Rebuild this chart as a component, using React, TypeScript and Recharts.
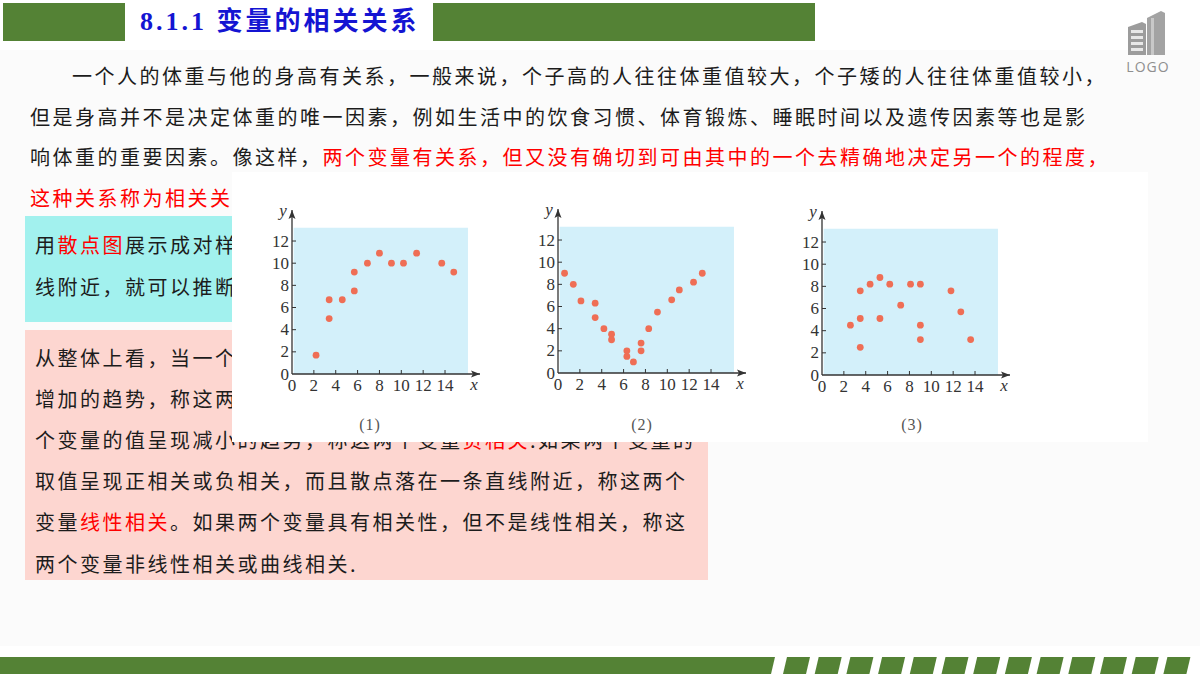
import React from "react";
import { ScatterChart, Scatter, XAxis, YAxis, ReferenceArea, ReferenceDot } from "recharts";

// tick labels shared by the three small plots
const X_TICKS = [0, 2, 4, 6, 8, 10, 12, 14];
const Y_TICKS = [0, 2, 4, 6, 8, 10, 12];
const CAPTIONS = ["(1)", "(2)", "(3)"];

// (1) 正相关后趋平
const PLOT1_X = [2.2, 3.4, 3.4, 4.6, 5.7, 5.7, 6.9, 8.0, 9.1, 10.2, 11.4, 13.7, 14.8];
const PLOT1_Y = [1.7, 5.0, 6.7, 6.7, 7.5, 9.2, 10.0, 10.9, 10.0, 10.0, 10.9, 10.0, 9.2];

// (2) V 形
const PLOT2_X = [0.6, 1.4, 2.1, 3.4, 3.4, 4.2, 4.9, 4.9, 6.3, 6.3, 6.9, 7.6, 7.6, 8.3, 9.1, 10.4, 11.1, 12.4, 13.2];
const PLOT2_Y = [9.0, 8.0, 6.5, 6.3, 5.0, 4.0, 3.5, 3.0, 2.0, 1.5, 1.0, 2.7, 2.0, 4.0, 5.5, 6.6, 7.5, 8.2, 9.0];

// (3) 无明显关系
const PLOT3_X = [2.6, 3.5, 3.5, 3.5, 4.4, 5.3, 5.3, 6.2, 7.2, 8.1, 9.0, 9.0, 9.0, 11.8, 12.7, 13.6];
const PLOT3_Y = [4.5, 2.5, 5.1, 7.6, 8.2, 8.8, 5.1, 8.2, 6.3, 8.2, 8.2, 4.5, 3.2, 7.6, 5.7, 3.2];

const toRows = (xs: number[], ys: number[]) => xs.map((x, i) => ({ x, y: ys[i] }));

const PLOTS = [
  { rows: toRows(PLOT1_X, PLOT1_Y), left: 30, top: 28 },
  { rows: toRows(PLOT2_X, PLOT2_Y), left: 296, top: 27 },
  { rows: toRows(PLOT3_X, PLOT3_Y), left: 560, top: 29 },
];
const CAPTION_X = [138, 410, 680];

const GREEN = "#548235";
const AXIS = "#333333";
const DOT = "#ef6e55";
const PANEL = "#d3f0fa";
const SERIF = "'Liberation Serif', 'DejaVu Serif', serif";
const SANS = "'Noto Sans CJK SC', 'Noto Sans', sans-serif";
const RED = "#ff0000";

const XTick = (props: any) => {
  const { x, y, payload } = props;
  return (
    <g>
      {payload.value !== 0 && <line x1={x} x2={x} y1={y} y2={y - 4} stroke={AXIS} strokeWidth={1} />}
      <text x={x} y={y + 17} textAnchor="middle" fontSize={17} fontFamily={SERIF} fill={AXIS}>
        {payload.value}
      </text>
    </g>
  );
};

const YTick = (props: any) => {
  const { x, y, payload } = props;
  return (
    <g>
      {payload.value !== 0 && <line x1={x} x2={x + 4} y1={y} y2={y} stroke={AXIS} strokeWidth={1} />}
      <text x={x - 3} y={y} dy="0.33em" textAnchor="end" fontSize={17} fontFamily={SERIF} fill={AXIS}>
        {payload.value}
      </text>
    </g>
  );
};

const XArrow = (p: any) => (
  <g>
    <path d={`M${p.cx},${p.cy} L${p.cx - 9},${p.cy - 3.5} L${p.cx - 7},${p.cy} L${p.cx - 9},${p.cy + 3.5} Z`} fill={AXIS} />
    <text x={p.cx - 6} y={p.cy + 16} textAnchor="middle" fontSize={17} fontStyle="italic" fontFamily={SERIF} fill={AXIS}>
      x
    </text>
  </g>
);

const YArrow = (p: any) => (
  <g>
    <path d={`M${p.cx},${p.cy} L${p.cx - 3.5},${p.cy + 9} L${p.cx},${p.cy + 7} L${p.cx + 3.5},${p.cy + 9} Z`} fill={AXIS} />
    <text x={p.cx - 9} y={p.cy + 6} textAnchor="middle" fontSize={17} fontStyle="italic" fontFamily={SERIF} fill={AXIS}>
      y
    </text>
  </g>
);

function MiniScatter({ rows }: { rows: { x: number; y: number }[] }) {
  return (
    <ScatterChart width={238} height={196} margin={{ top: 10, right: 20, bottom: 0, left: 0 }}>
      <ReferenceArea x1={0.15} x2={16.1} y1={0} y2={13.2} fill={PANEL} fillOpacity={1} stroke="none" ifOverflow="visible" />
      <XAxis
        type="number"
        dataKey="x"
        domain={[0, 17.2]}
        ticks={X_TICKS}
        interval={0}
        allowDataOverflow
        height={22}
        tickSize={0}
        tickMargin={0}
        tickLine={false}
        tick={<XTick />}
        axisLine={{ stroke: AXIS, strokeWidth: 1.3 }}
      />
      <YAxis
        type="number"
        dataKey="y"
        domain={[0, 14.8]}
        ticks={Y_TICKS}
        interval={0}
        allowDataOverflow
        width={30}
        tickSize={0}
        tickMargin={0}
        tickLine={false}
        tick={<YTick />}
        axisLine={{ stroke: AXIS, strokeWidth: 1.3 }}
      />
      <Scatter
        data={rows}
        isAnimationActive={false}
        shape={(p: any) => <circle cx={p.cx} cy={p.cy} r={3.4} fill={DOT} />}
      />
      <ReferenceDot x={17.2} y={0} r={0} ifOverflow="visible" shape={XArrow} />
      <ReferenceDot x={0} y={14.8} r={0} ifOverflow="visible" shape={YArrow} />
    </ScatterChart>
  );
}

const lineStyle = (top: number, left: number, h: number): React.CSSProperties => ({
  position: "absolute",
  top,
  left,
  height: h,
  lineHeight: `${h}px`,
  whiteSpace: "nowrap",
  fontFamily: SANS,
  fontSize: 20,
  letterSpacing: 2.5,
  color: "#1c1c1c",
});

const R = ({ children }: { children: React.ReactNode }) => <span style={{ color: RED }}>{children}</span>;

export default function App() {
  return (
    <div style={{ position: "absolute", left: 0, top: 0, width: 1200, height: 675, overflow: "hidden", background: "#ffffff" }}>
      <div style={{ position: "absolute", left: 0, top: 50, width: 1200, height: 596, background: "#fbfbfb" }} />

      {/* header */}
      <div style={{ position: "absolute", left: 3, top: 3, width: 122, height: 38, background: GREEN }} />
      <div style={{ position: "absolute", left: 433, top: 3, width: 382, height: 38, background: GREEN }} />
      <div
        style={{
          position: "absolute",
          left: 140,
          top: 3,
          height: 38,
          lineHeight: "38px",
          fontFamily: `${SERIF.split(",")[0]}, 'Noto Sans CJK SC'`,
          fontWeight: 700,
          fontSize: 26,
          letterSpacing: 3,
          color: "#1414d2",
          whiteSpace: "nowrap",
        }}
      >
        8.1.1 变量的相关关系
      </div>

      {/* logo */}
      <svg style={{ position: "absolute", left: 1115, top: 4 }} width={70} height={72}>
        <polygon points="32,14 46,7 50,9 50,51 32,51" fill="#a3a3a3" />
        <rect x={36} y={14} width={3} height={37} fill="#c8c8c8" />
        <polygon points="13,23 27,18 31,20 31,51 13,51" fill="#9c9c9c" />
        {[26, 32, 38, 44].map((y) => (
          <rect key={y} x={16} y={y} width={12} height={3} fill="#e8e8e8" />
        ))}
        <text x={33} y={68} textAnchor="middle" fontSize={14} letterSpacing={1} fill="#8f8f8f" fontFamily="'Open Sans', sans-serif">
          LOGO
        </text>
      </svg>

      {/* paragraph */}
      <div style={lineStyle(56, 72, 40)}>一个人的体重与他的身高有关系，一般来说，个子高的人往往体重值较大，个子矮的人往往体重值较小，</div>
      <div style={lineStyle(96.5, 30, 40)}>但是身高并不是决定体重的唯一因素，例如生活中的饮食习惯、体育锻炼、睡眠时间以及遗传因素等也是影</div>
      <div style={lineStyle(137, 30, 40)}>
        响体重的重要因素。像这样，<R>两个变量有关系，但又没有确切到可由其中的一个去精确地决定另一个的程度，</R>
      </div>
      <div style={lineStyle(177.5, 30, 40)}>
        <R>这种关系称为相关关</R>
      </div>

      {/* cyan box */}
      <div style={{ position: "absolute", left: 25, top: 216, width: 683, height: 106, background: "#a2f1ee" }} />
      <div style={lineStyle(224, 35, 42)}>
        用<R>散点图</R>展示成对样
      </div>
      <div style={lineStyle(266, 35, 42)}>线附近，就可以推断</div>

      {/* pink box */}
      <div style={{ position: "absolute", left: 25, top: 330, width: 683, height: 250, background: "#fdd6d0" }} />
      <div style={lineStyle(336.5, 35, 41)}>从整体上看，当一个</div>
      <div style={lineStyle(377.7, 35, 41)}>增加的趋势，称这两</div>
      <div style={lineStyle(418.9, 35, 41)}>
        个变量的值呈现减小的趋势，称这两个变量<R>负相关</R>.如果两个变量的
      </div>
      <div style={lineStyle(460.1, 35, 41)}>取值呈现正相关或负相关，而且散点落在一条直线附近，称这两个</div>
      <div style={lineStyle(501.3, 35, 41)}>
        变量<R>线性相关</R>。如果两个变量具有相关性，但不是线性相关，称这
      </div>
      <div style={lineStyle(542.5, 35, 41)}>两个变量非线性相关或曲线相关.</div>

      {/* figure overlay with the three scatter plots */}
      <div style={{ position: "absolute", left: 232, top: 172, width: 916, height: 270, background: "#ffffff" }}>
        {PLOTS.map((p, i) => (
          <div key={i} style={{ position: "absolute", left: p.left, top: p.top }}>
            <MiniScatter rows={p.rows} />
          </div>
        ))}
        {CAPTIONS.map((c, i) => (
          <div
            key={c}
            style={{
              position: "absolute",
              left: CAPTION_X[i] - 20,
              top: 244,
              width: 40,
              textAlign: "center",
              fontFamily: SERIF,
              fontSize: 16,
              color: "#555555",
              letterSpacing: 1,
            }}
          >
            {c}
          </div>
        ))}
      </div>

      {/* bottom stripes */}
      <svg style={{ position: "absolute", left: 0, top: 0 }} width={1200} height={675}>
        <polygon points="0,657 775,657 771,674 0,674" fill={GREEN} />
        {Array.from({ length: 13 }, (_, i) => {
          const x0 = 783 + i * 31.7;
          return <polygon key={i} points={`${x0 + 4},657 ${x0 + 27},657 ${x0 + 23},674 ${x0},674`} fill={GREEN} />;
        })}
      </svg>
    </div>
  );
}
